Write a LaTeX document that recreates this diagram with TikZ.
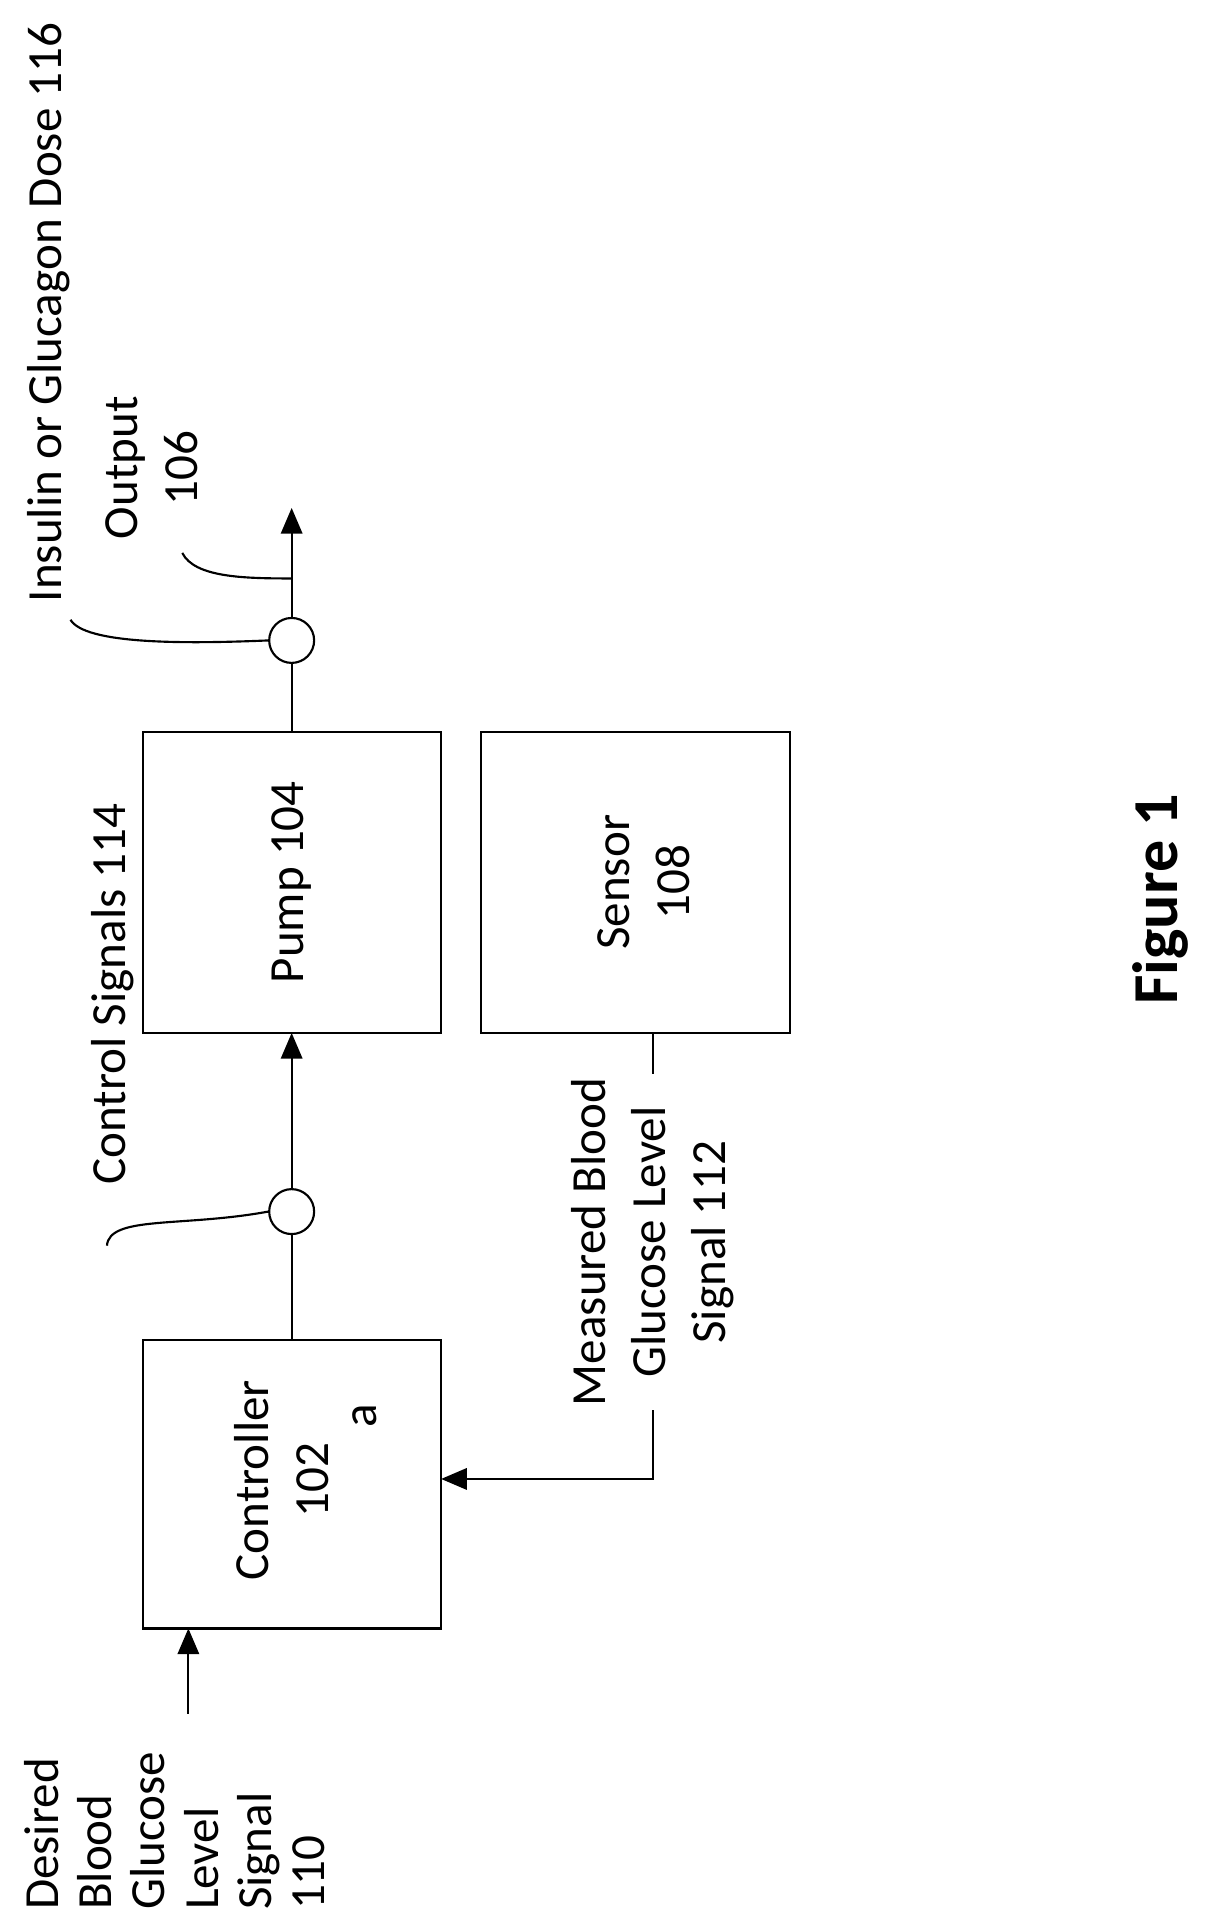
\documentclass[tikz,border=0pt]{standalone}
\usepackage{fontspec}
\setmainfont{Carlito}
\usetikzlibrary{arrows.meta}
\tikzset{
  blk/.style={draw, line width=1pt},
  lbl/.style={rotate=90, font=\fontsize{23}{28}\selectfont},
  sig/.style={line width=1pt, -{Triangle[length=12pt,width=10pt]}},
  junc/.style={draw, circle, line width=1pt, fill=white, minimum size=0.74cm, inner sep=0pt},
  lead/.style={line width=1pt}
}
\begin{document}
\begin{tikzpicture}[x=0.02cm,y=-0.02cm]
  \useasboundingbox (0,0) rectangle (1000,1575);

  % Blocks
  \draw[blk] (118,1103) rectangle (363,1340);
  \node[lbl, align=center] (ctrl) at (232,1218) {Controller\\102};
  \node[lbl] (ctrla) at (300,1165) {a};
  \draw[blk] (118,602) rectangle (363,850);
  \node[lbl] (pump) at (240,726) {Pump 104};
  \draw[blk] (396,602) rectangle (650,850);
  \node[lbl, align=center] (sens) at (530,726) {Sensor\\108};

  % Forward path
  \coordinate (ctop) at (240,1103);
  \coordinate (pbot) at (240,850);
  \coordinate (ptop) at (240,602);
  \coordinate (outp) at (240,418);
  \draw[sig] (ctop) -- (pbot);
  \draw[sig] (ptop) -- (outp);
  \node[junc] (j1) at (240,997) {};
  \node[junc] (j2) at (240,527) {};

  % Feedback
  \coordinate (sbot) at (537,850);
  \coordinate (fb) at (537,1217);
  \coordinate (cin) at (363,1217);
  \draw[sig] (sbot) -- (fb) -- (cin);
  \node[lbl, align=center, fill=white, inner sep=2pt] (meas) at (537,1022)
    {Measured Blood\\Glucose Level\\Signal 112};

  % Input
  \coordinate (din) at (155,1410);
  \coordinate (cbot) at (155,1340);
  \draw[sig] (din) -- (cbot);
  \node[lbl, font=\fontsize{23}{25}\selectfont, align=left, anchor=south west, inner sep=0pt] (des) at (268,1572)
    {Desired\\Blood\\Glucose\\Level\\Signal\\110};

  % Labels with leaders
  \node[lbl] (ctl) at (93,818) {Control Signals 114};
  \draw[lead] (88,1025) .. controls (90,1000) and (150,1010) .. (j1.west);
  \node[lbl] (dose) at (40,257) {Insulin or Glucagon Dose 116};
  \draw[lead] (58,510) .. controls (70,530) and (150,530) .. (j2.west);
  \node[lbl, align=center] (out) at (125,385) {Output\\106};
  \draw[lead] (150,455) .. controls (160,475) and (200,476) .. (240,476);

  \node[rotate=90, font=\fontsize{30}{36}\selectfont\bfseries] (fig) at (955,740) {Figure 1};
\end{tikzpicture}
\end{document}
